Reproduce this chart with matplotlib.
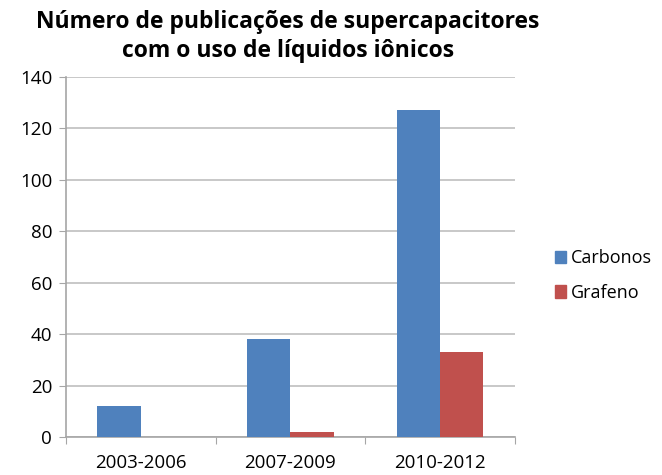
import numpy as np
import matplotlib.pyplot as plt
from matplotlib.patches import Patch

# --- data ---
periodos = ['2003-2006', '2007-2009', '2010-2012']
carbonos = [12, 38, 127]
grafeno = [0, 2, 33]

cor_carb = '#4F81BD'
cor_graf = '#C0504D'
cinza = '#A6A6A6'

plt.rcParams['font.family'] = ['Open Sans', 'DejaVu Sans']

fig = plt.figure(figsize=(6.62, 4.75), dpi=100)
ax = fig.add_axes([0.0997, 0.08, 0.678, 0.758])

x = np.arange(len(periodos))
w = 0.29
ax.bar(x - w / 2, carbonos, w, color=cor_carb, zorder=3)
ax.bar(x + w / 2, grafeno, w, color=cor_graf, zorder=3)

ax.set_xlim(-0.5, len(periodos) - 0.5)
ax.set_ylim(0, 140)
ax.set_yticks(range(0, 141, 20))
ax.yaxis.grid(True, color='#BFBFBF', linewidth=1.2, zorder=0)

# category separators as ticks on the x axis
ax.set_xticks(np.arange(-0.5, len(periodos)), minor=False)
ax.set_xticklabels([])
ax.set_xticks(x, minor=True)
ax.set_xticklabels(periodos, minor=True)
ax.tick_params(axis='x', which='major', length=5, direction='out', color=cinza)
ax.tick_params(axis='x', which='minor', length=0, pad=12, labelsize=13.5)
ax.tick_params(axis='y', length=5, color=cinza, labelsize=13.5, pad=5)

for s in ['top', 'right']:
    ax.spines[s].set_visible(False)
for s in ['left', 'bottom']:
    ax.spines[s].set_color(cinza)
    ax.spines[s].set_linewidth(1.2)

fig.suptitle('Número de publicações de supercapacitores\ncom o uso de líquidos iônicos',
             x=0.435, y=0.978, fontsize=16.5, fontweight='bold', linespacing=1.25)

handles = [Patch(color=cor_carb, label='Carbonos'), Patch(color=cor_graf, label='Grafeno')]
fig.legend(handles=handles, loc='center left', bbox_to_anchor=(0.838, 0.42),
           frameon=False, fontsize=13, handlelength=0.6, handleheight=0.7,
           handletextpad=0.3, labelspacing=0.9, borderpad=0, borderaxespad=0)

fig.savefig('out.png', dpi=100)
